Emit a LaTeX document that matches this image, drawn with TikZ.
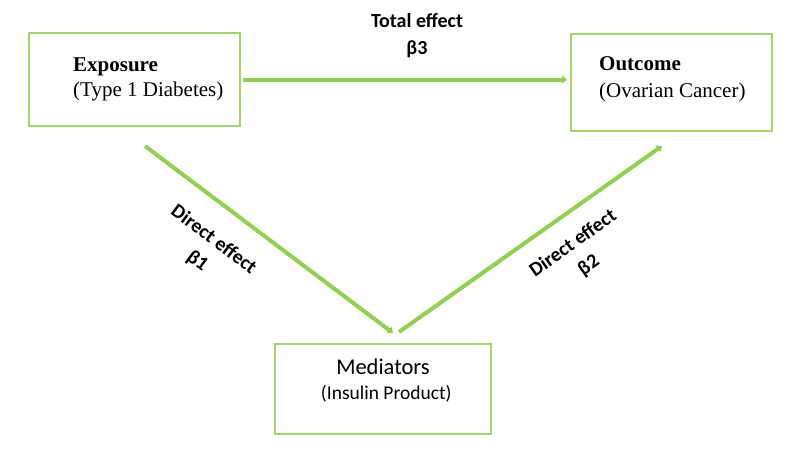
\documentclass[tikz,border=0pt]{standalone}
\usepackage{fontspec}
\usepackage{xcolor}
\setmainfont{Liberation Serif}
\newfontfamily\calibri{Carlito}
\usetikzlibrary{arrows.meta,calc}
\definecolor{lgreen}{HTML}{92D050}
\definecolor{bgreen}{HTML}{A2D46C}

\begin{document}
\begin{tikzpicture}[x=1pt,y=-1pt,
  box/.style={draw=bgreen,line width=1.6pt,rectangle,inner sep=0pt,outer sep=0pt},
  arr/.style={draw=lgreen,line width=4pt,-{Triangle[length=5pt,width=8pt]}},
  lab/.style={font=\calibri\bfseries\fontsize{20}{27}\selectfont,align=center,inner sep=0pt}]
\useasboundingbox (0,0) rectangle (800,467);
\node[box,minimum width=211pt,minimum height=93pt] (exp) at (134.5,79.5) {};
\node[box,minimum width=201pt,minimum height=97pt] (out) at (671.5,82.5) {};
\node[box,minimum width=216pt,minimum height=90pt] (med) at (383,389) {};
\node[anchor=west,align=left,inner sep=0pt,font=\fontsize{21}{25}\selectfont]
  (expt) at ([xshift=44pt]exp.west) {\textbf{Exposure}\\(Type 1 Diabetes)};
\node[anchor=west,align=left,inner sep=0pt,font=\fontsize{21}{27}\selectfont]
  (outt) at ([xshift=28pt,yshift=3.5pt]out.west) {\textbf{Outcome}\\(Ovarian Cancer)};
\node[align=center,inner sep=0pt,font=\calibri\fontsize{22.5}{25}\selectfont] (medt) at ([yshift=8pt]med.center)
  {Mediators\\\fontsize{19.5}{25}\selectfont\,\,(Insulin Product)};
% connectors
\coordinate (a1) at ([xshift=10.5pt,yshift=-20pt]exp.south);
\coordinate (b1) at ([xshift=10pt,yshift=11pt]med.north);
\coordinate (a2) at ([xshift=16pt,yshift=12pt]med.north);
\coordinate (b2) at ([xshift=-9.5pt,yshift=-15pt]out.south);
\draw[arr] ([xshift=3pt]exp.east) -- ([xshift=-4pt]out.west |- exp.east)
  node[lab,midway,above=20pt,xshift=12pt] (te) {Total effect\\β3};
\draw[arr] (a1) -- (b1);
\draw[arr] (a2) -- (b2);
\node[lab,rotate=-37] (d1) at ($(a1)!0.358!(b1)!47pt!270:(b1)$) {Direct effect\\β1};
\node[lab,rotate=35.3] (d2) at ($(a2)!0.60!(b2)!42pt!270:(b2)$) {Direct effect\\β2};
\end{tikzpicture}
\end{document}
